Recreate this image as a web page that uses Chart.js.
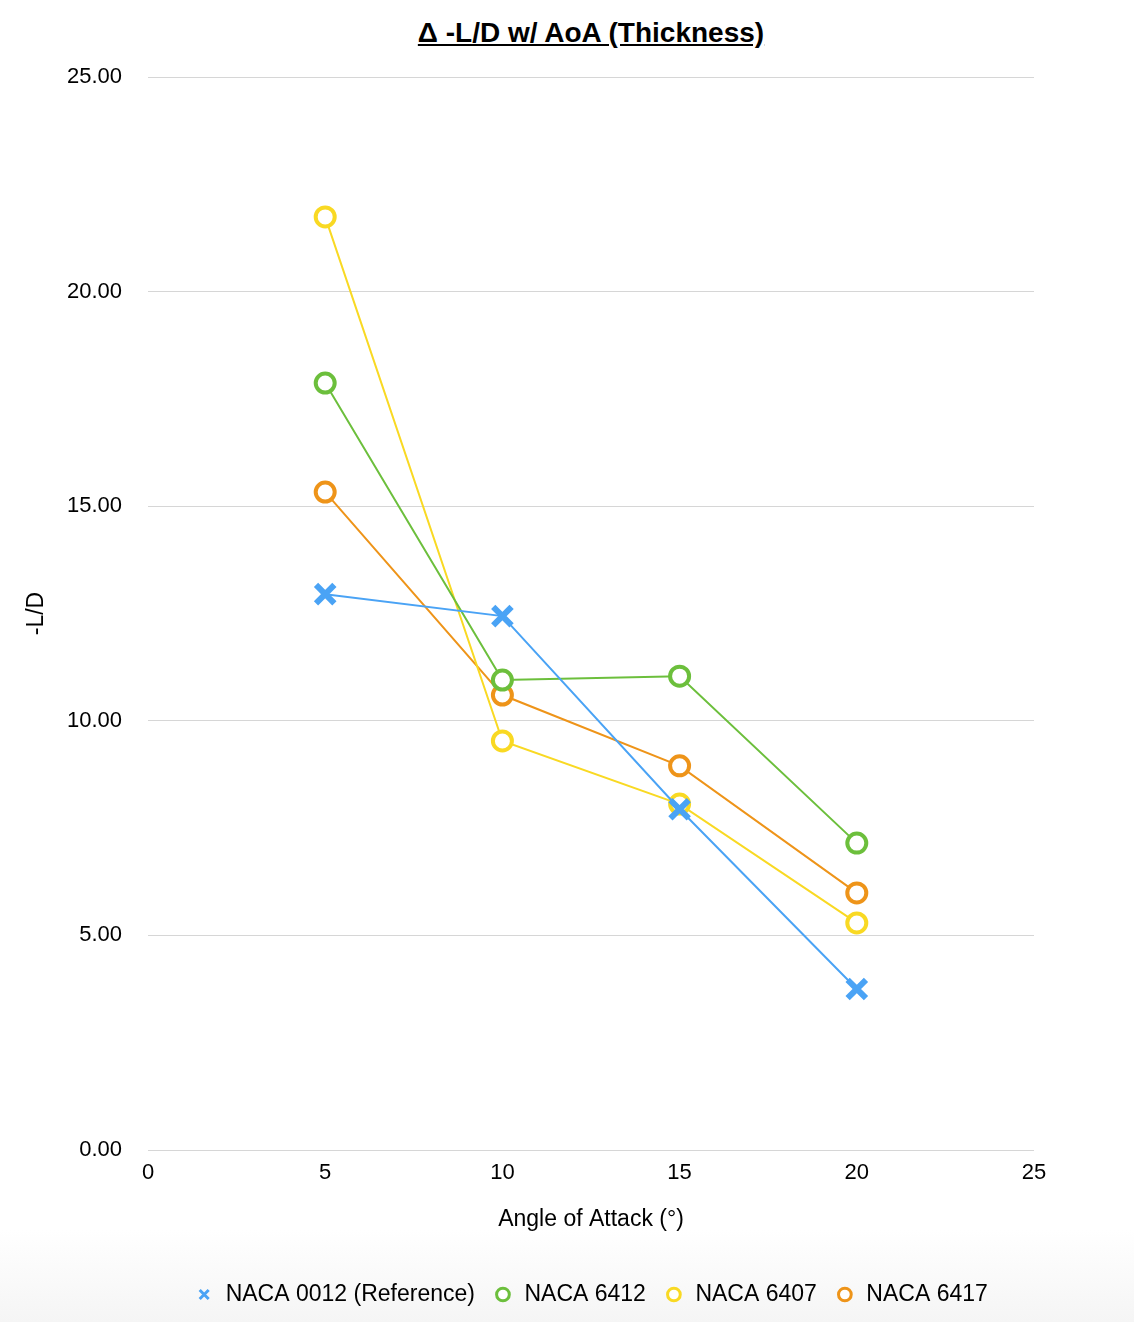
<!DOCTYPE html>
<html>
<head>
<meta charset="utf-8">
<script src="https://cdn.jsdelivr.net/npm/chart.js@4"></script>
<style>
  html, body { margin: 0; padding: 0; background: #fff; }
  #wrap { position: relative; width: 1134px; height: 1322px;
    background: linear-gradient(to bottom, #fff 0%, #fff 93%, #f5f5f5 100%); }
  #title { position: absolute; top: 17px; left: 0; width: 1182px; text-align: center;
    font-family: "Liberation Sans", Arial, sans-serif; font-weight: bold; font-size: 28px;
    text-decoration: underline; color: #000; }
  canvas { position: absolute; left: 0; top: 0; }
</style>
</head>
<body>
<div id="wrap">
  <div id="title">Δ -L/D w/ AoA (Thickness)</div>
  <canvas id="chart" width="1134" height="1322"></canvas>
</div>
<script>
const angles = [5, 10, 15, 20];
const naca0012 = [12.95, 12.44, 7.94, 3.75];
const naca6412 = [17.87, 10.95, 11.04, 7.15];
const naca6407 = [21.74, 9.53, 8.06, 5.29];
const naca6417 = [15.33, 10.60, 8.95, 5.99];

const fontFamily = '"Liberation Sans", Arial, sans-serif';

function points(values) {
  return angles.map(function (a, i) {
    return { x: a, y: values[i] };
  });
}

function series(label, values, color, style) {
  const isCircle = style === "circle";
  return {
    label: label,
    data: points(values),
    borderColor: color,
    backgroundColor: isCircle ? "#ffffff" : color,
    borderWidth: 2,
    pointStyle: style,
    pointRadius: isCircle ? 9.5 : 13,
    pointBorderWidth: isCircle ? 4 : 6,
    pointBackgroundColor: isCircle ? "#ffffff" : color,
    pointBorderColor: color,
    tension: 0
  };
}

new Chart(document.getElementById("chart"), {
  type: "line",
  data: {
    datasets: [
      series("NACA 0012 (Reference)", naca0012, "#4aa3f5", "crossRot"),
      series("NACA 6412", naca6412, "#6cbf3c", "circle"),
      series("NACA 6407", naca6407, "#f9d923", "circle"),
      series("NACA 6417", naca6417, "#ee9419", "circle")
    ]
  },
  options: {
    responsive: false,
    animation: false,
    layout: { padding: { top: 77, left: 20, right: 100, bottom: 6 } },
    scales: {
      x: {
        type: "linear",
        min: 0,
        max: 25,
        ticks: { stepSize: 5, color: "#000", font: { family: fontFamily, size: 22 }, padding: 10 },
        grid: { display: false, drawTicks: false },
        border: { display: false },
        title: { display: true, text: "Angle of Attack (°)", color: "#000",
          font: { family: fontFamily, size: 23 }, padding: { top: 9, bottom: 32 } }
      },
      y: {
        min: 0,
        max: 25,
        ticks: {
          stepSize: 5,
          color: "#000",
          font: { family: fontFamily, size: 22 },
          padding: 26,
          callback: function (v) { return v.toFixed(2); }
        },
        grid: { color: "#d6d6d6", drawTicks: false, lineWidth: 1 },
        border: { display: false },
        title: { display: true, text: "-L/D", color: "#000",
          font: { family: fontFamily, size: 23 }, padding: { top: 3, bottom: 0 } },
        afterFit: function (scale) {
          scale.width = 128;
        }
      }
    },
    plugins: {
      legend: {
        position: "bottom",
        fullSize: false,
        labels: {
          usePointStyle: true,
          boxWidth: 20,
          boxHeight: 9,
          color: "#000",
          font: { family: fontFamily, size: 23 },
          padding: 18,
          generateLabels: function (chart) {
            const items = Chart.defaults.plugins.legend.labels.generateLabels(chart);
            items.forEach(function (item) {
              item.lineWidth = 3;
            });
            return items;
          }
        }
      },
      tooltip: { enabled: false }
    }
  }
});
</script>
</body>
</html>
